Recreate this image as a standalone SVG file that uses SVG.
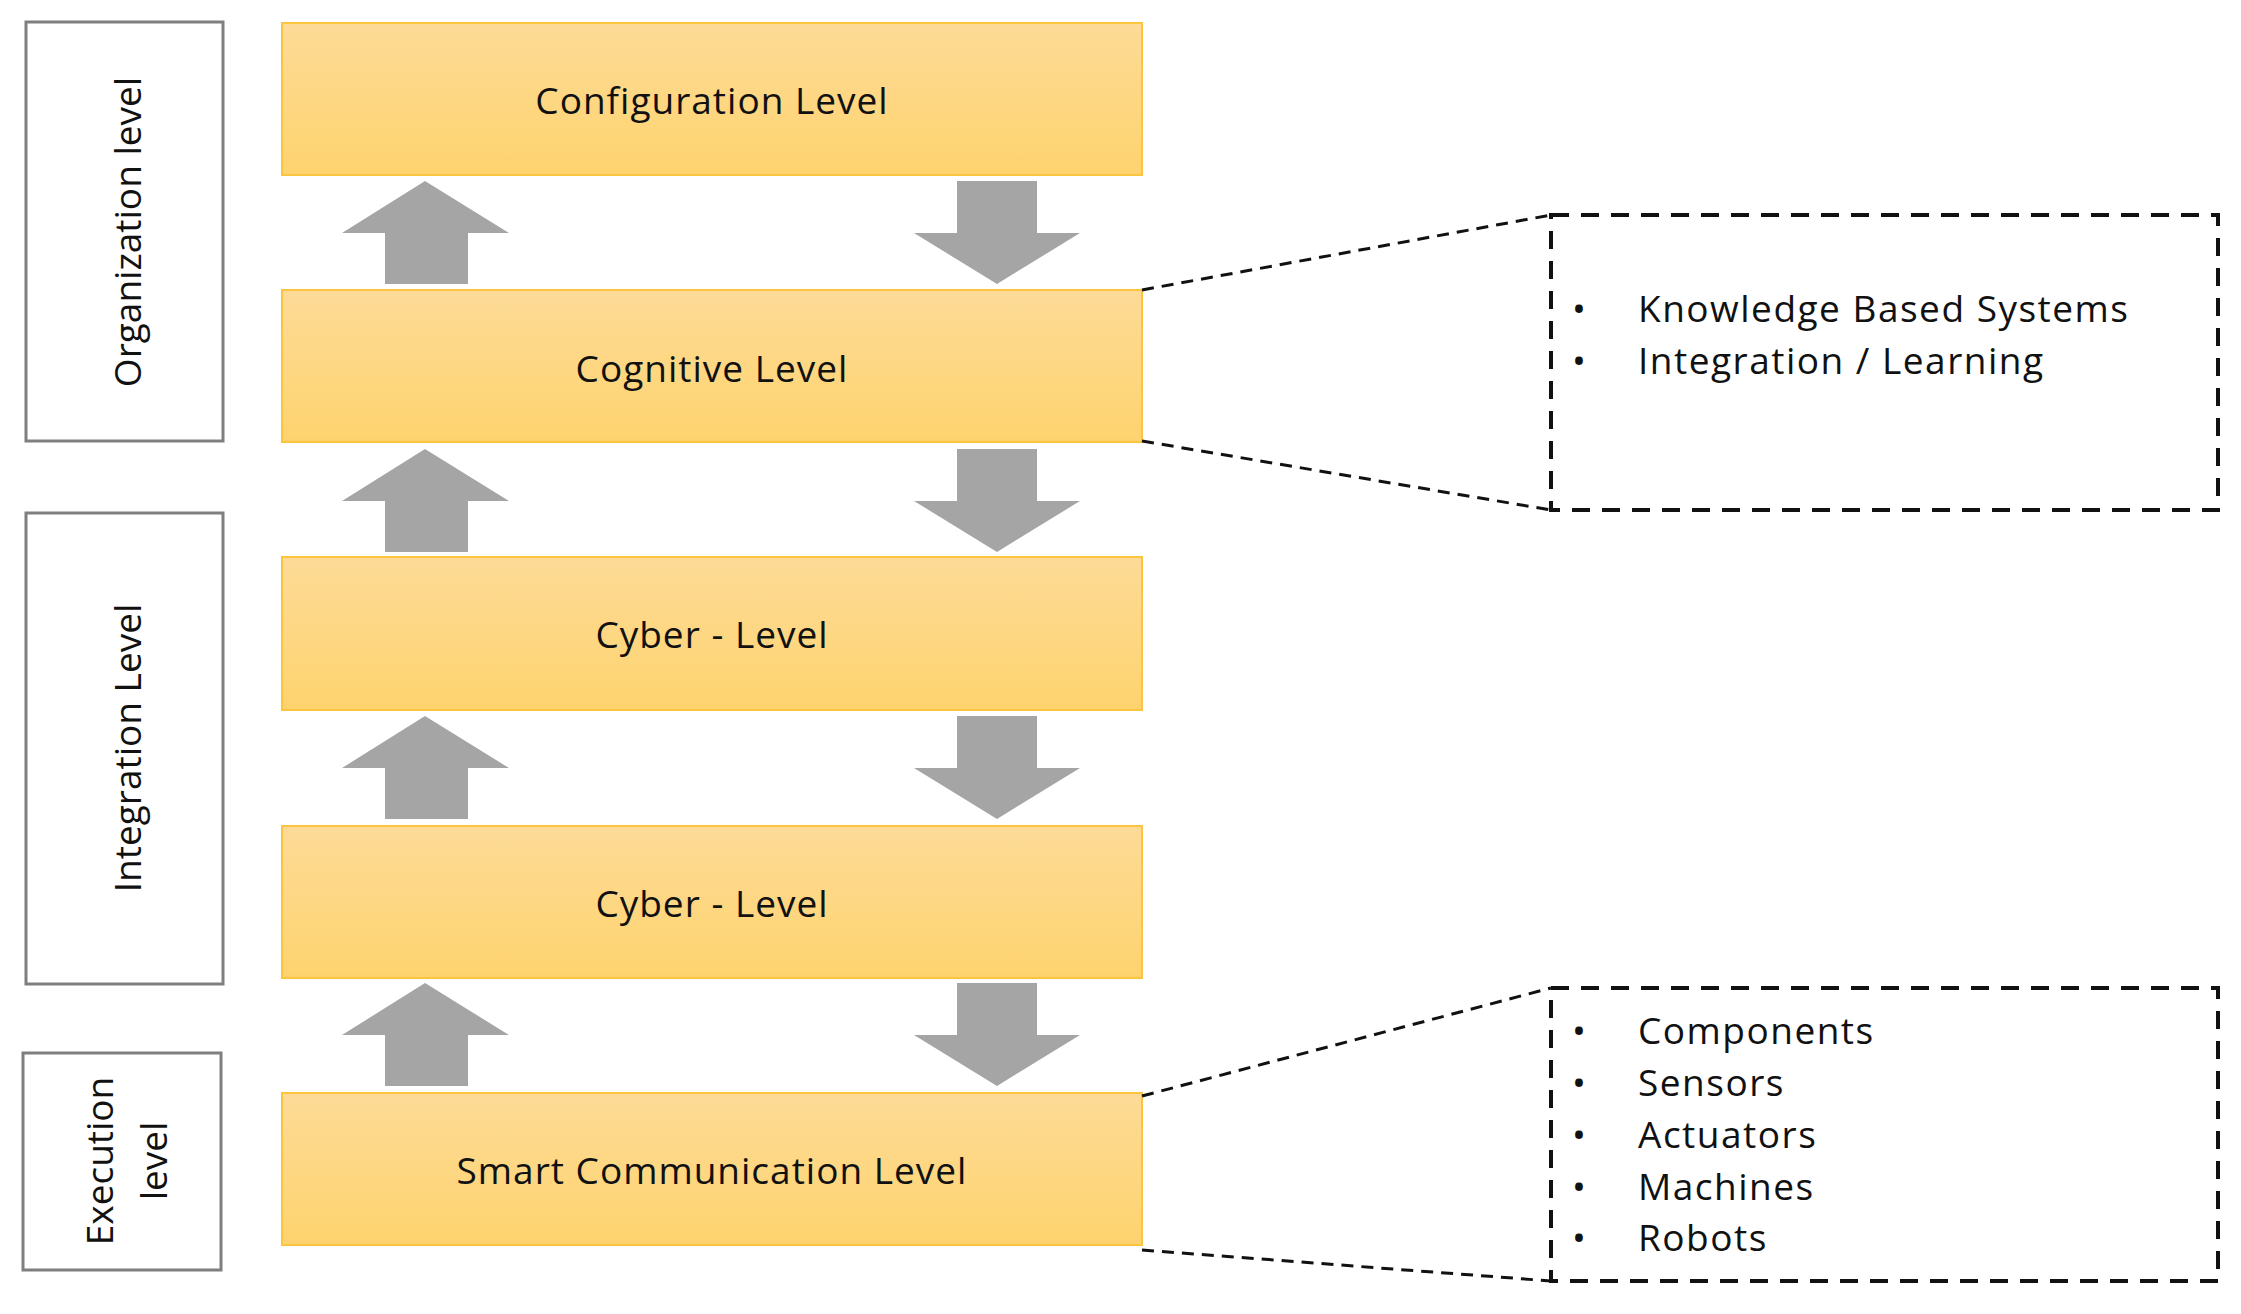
<svg xmlns="http://www.w3.org/2000/svg" width="2241" height="1314" viewBox="0 0 2241 1314">
<style>
.side{fill:#fff;stroke:#7f7f7f;stroke-width:3}
.lvl{fill:url(#g);stroke:#fcc53f;stroke-width:2}
.t{font-family:"Open Sans","DejaVu Sans",sans-serif;font-size:37px;fill:#111;text-anchor:middle;dominant-baseline:central;letter-spacing:1px}
.s{font-family:"Open Sans","DejaVu Sans",sans-serif;font-size:37px;fill:#111;text-anchor:middle;dominant-baseline:central}
.b{font-family:"Open Sans","DejaVu Sans",sans-serif;font-size:37px;fill:#111;letter-spacing:1.5px}
.arr{fill:#a5a5a5}
.d{fill:none;stroke:#111;stroke-width:4;stroke-dasharray:18,12}
.dl{fill:none;stroke:#111;stroke-width:3;stroke-dasharray:12,8}
</style>
<defs><linearGradient id="g" x1="0" y1="0" x2="0" y2="1"><stop offset="0" stop-color="#fddb97"/><stop offset="1" stop-color="#fed36e"/></linearGradient></defs>
<rect width="2241" height="1314" fill="#fff"/>
<g id="side-org"><rect class="side" x="26" y="22" width="197" height="419"/><text class="s" transform="translate(126,232) rotate(-90)">Organization level</text></g>
<g id="side-int"><rect class="side" x="26" y="513" width="197" height="471"/><text class="s" transform="translate(126,748) rotate(-90)">Integration Level</text></g>
<g id="side-exe"><rect class="side" x="23" y="1053" width="198" height="217"/><text class="s" transform="translate(98,1161) rotate(-90)">Execution</text><text class="s" transform="translate(152,1161) rotate(-90)">level</text></g>
<g id="config"><rect class="lvl" x="282" y="23" width="860" height="152"/><text class="t" x="712" y="99">Configuration Level</text></g>
<g id="cognitive"><rect class="lvl" x="282" y="290" width="860" height="152"/><text class="t" x="712" y="367">Cognitive Level</text></g>
<g id="cyber1"><rect class="lvl" x="282" y="557" width="860" height="153"/><text class="t" x="712" y="633">Cyber - Level</text></g>
<g id="cyber2"><rect class="lvl" x="282" y="826" width="860" height="152"/><text class="t" x="712" y="902">Cyber - Level</text></g>
<g id="smart"><rect class="lvl" x="282" y="1093" width="860" height="152"/><text class="t" x="712" y="1169">Smart Communication Level</text></g>
<g id="connectors">
<g class="arr">
<polygon points="425,181 509,233 468,233 468,284 385,284 385,233 342,233"/>
<polygon points="957,181 1037,181 1037,233 1080,233 997,284 914,233 957,233"/>
<polygon points="425,449 509,501 468,501 468,552 385,552 385,501 342,501"/>
<polygon points="957,449 1037,449 1037,501 1080,501 997,552 914,501 957,501"/>
<polygon points="425,716 509,768 468,768 468,819 385,819 385,768 342,768"/>
<polygon points="957,716 1037,716 1037,768 1080,768 997,819 914,768 957,768"/>
<polygon points="425,983 509,1035 468,1035 468,1086 385,1086 385,1035 342,1035"/>
<polygon points="957,983 1037,983 1037,1035 1080,1035 997,1086 914,1035 957,1035"/>
</g>
<line class="dl" x1="1142" y1="290" x2="1551" y2="215"/>
<line class="dl" x1="1142" y1="441" x2="1551" y2="510"/>
<line class="dl" x1="1142" y1="1096" x2="1551" y2="988"/>
<line class="dl" x1="1142" y1="1250" x2="1551" y2="1281"/>
</g>
<g id="note-top"><rect class="d" x="1551" y="215" width="667" height="295"/>
<text class="b" x="1572" y="322">•</text><text class="b" x="1638" y="322">Knowledge Based Systems</text>
<text class="b" x="1572" y="374">•</text><text class="b" x="1638" y="374">Integration / Learning</text></g>
<g id="note-bottom"><rect class="d" x="1551" y="988" width="667" height="293"/>
<text class="b" x="1572" y="1044">•</text><text class="b" x="1638" y="1044">Components</text>
<text class="b" x="1572" y="1096">•</text><text class="b" x="1638" y="1096">Sensors</text>
<text class="b" x="1572" y="1148">•</text><text class="b" x="1638" y="1148">Actuators</text>
<text class="b" x="1572" y="1200">•</text><text class="b" x="1638" y="1200">Machines</text>
<text class="b" x="1572" y="1251">•</text><text class="b" x="1638" y="1251">Robots</text></g>
</svg>
